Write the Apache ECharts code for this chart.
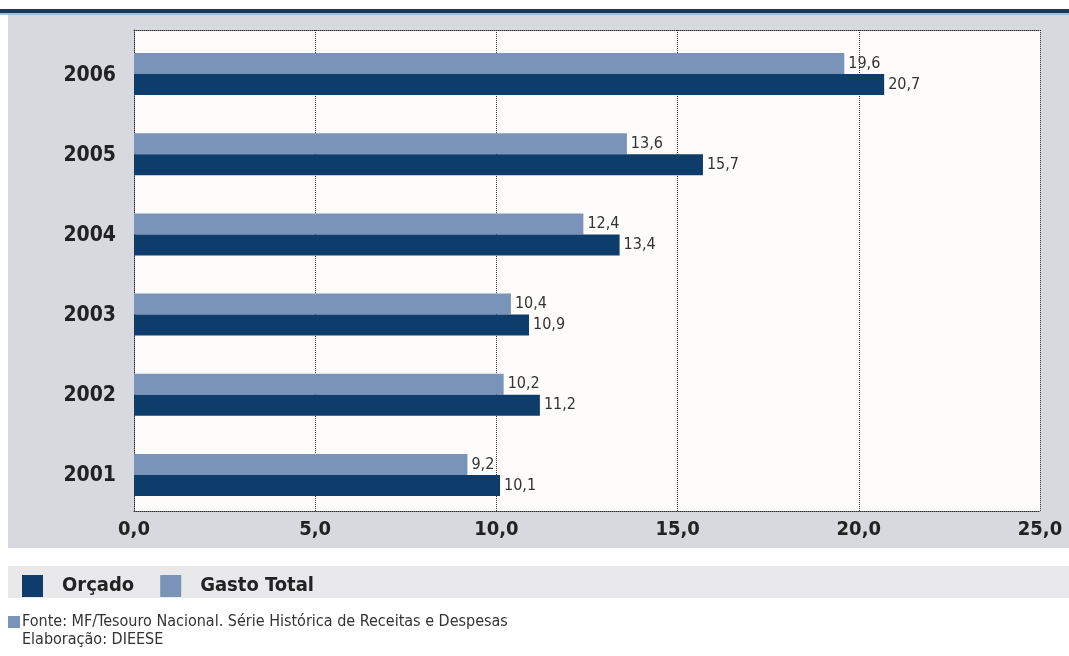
<!DOCTYPE html>
<html><head><meta charset="utf-8">
<script src="https://cdn.jsdelivr.net/npm/echarts@6/dist/echarts.min.js"></script>
<style>html,body{margin:0;padding:0;background:#fff}#c{width:1069px;height:656px}</style>
</head><body><div id="c"></div>
<script>
const years = ['2001','2002','2003','2004','2005','2006'];
const gastoTotal = [9.2, 10.2, 10.4, 12.4, 13.6, 19.6];
const orcado = [10.1, 11.2, 10.9, 13.4, 15.7, 20.7];
const seriesNames = ['Orçado', 'Gasto Total'];
const sourceLines = ['Fonte: MF/Tesouro Nacional. Série Histórica de Receitas e Despesas', 'Elaboração: DIEESE'];

const FONT = '"Liberation Sans Narrow","DejaVu Sans Condensed",sans-serif';
const DARK = '#0e3d6b', LIGHT = '#7a93b8';
const fmt = v => v.toFixed(1).replace('.', ',');

const chart = echarts.init(document.getElementById('c'));
chart.setOption({
  animation: false,
  backgroundColor: '#ffffff',
  graphic: [
    {type:'rect', shape:{x:0,y:9,width:1069,height:4}, style:{fill:'#1b3a56'}, z:-10},
    {type:'rect', shape:{x:0,y:13,width:1069,height:2}, style:{fill:'#9fc3dd'}, z:-10},
    {type:'rect', shape:{x:8,y:15,width:1061,height:533}, style:{fill:'#d8d9de'}, z:-10},
    {type:'rect', shape:{x:8,y:566,width:1061,height:32}, style:{fill:'#e9e9eb'}, z:-10},
    {type:'rect', shape:{x:8,y:616,width:12,height:12}, style:{fill:LIGHT}},
    {type:'text', left:22, top:613, style:{text:sourceLines[0] + '\n' + sourceLines[1], font:'16px ' + FONT, fill:'#333', lineHeight:18}}
  ],
  legend: {
    left: 17, top: 570,
    itemWidth: 21, itemHeight: 22, itemGap: 26,
    icon: 'rect',
    data: seriesNames,
    textStyle: {fontFamily: FONT, fontWeight: 'bold', fontSize: 20, color: '#222', padding:[0,0,0,14]}
  },
  grid: {left:134, right:29, top:30, bottom:145, show:true, backgroundColor:'#fdfcfb', borderWidth:0},
  xAxis: [{
    type:'value', min:0, max:25, interval:5,
    axisLine:{show:true, lineStyle:{color:'#333', type:'dotted', width:1}},
    axisTick:{show:false},
    axisLabel:{formatter: v => fmt(v), fontFamily:FONT, fontWeight:'bold', fontSize:20, color:'#222', margin:9},
    splitLine:{show:true, lineStyle:{color:'#333', type:'dotted', width:1}}
  },{
    type:'value', position:'top', min:0, max:25, interval:5,
    axisLine:{show:true, lineStyle:{color:'#333', type:'dotted', width:1}},
    axisTick:{show:false}, axisLabel:{show:false}, splitLine:{show:false}
  }],
  yAxis: {
    type:'category', data: years,
    axisLine:{show:true, lineStyle:{color:'#333', type:'dotted', width:1}},
    axisTick:{show:false},
    axisLabel:{margin:18, formatter: v => '{y|' + v + '}',
      rich:{y:{fontFamily:FONT, fontWeight:'bold', fontSize:21, color:'#222', padding:[10,0,0,0]}}}
  },
  series: [
    {name: 'spacer', type:'bar', data: years.map(() => 0), barWidth:8, barGap:'0%',
     itemStyle:{color:'rgba(0,0,0,0)'}, silent:true, label:{show:false}},
    {name: seriesNames[1], type:'bar', data: gastoTotal, barWidth:21, barGap:'0%',
     itemStyle:{color:LIGHT},
     label:{show:true, position:'right', distance:4, formatter: p => fmt(p.value), fontFamily:FONT, fontSize:16, color:'#333'}},
    {name: seriesNames[0], type:'bar', data: orcado, barWidth:21, barGap:'0%',
     itemStyle:{color:DARK},
     label:{show:true, position:'right', distance:4, formatter: p => fmt(p.value), fontFamily:FONT, fontSize:16, color:'#333'}}
  ]
});
</script></body></html>
